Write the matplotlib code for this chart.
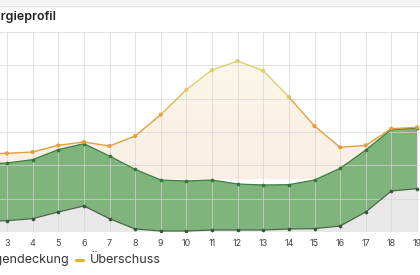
import numpy as np
import matplotlib
matplotlib.use("Agg")
import matplotlib.pyplot as plt
from matplotlib.collections import LineCollection
from matplotlib.colors import LinearSegmentedColormap, Normalize
from matplotlib.lines import Line2D
from matplotlib.patches import Rectangle

plt.rcParams['font.family'] = ['Inter', 'DejaVu Sans']

# ---- data ----
hours = [2, 3, 4, 5, 6, 7, 8, 9, 10, 11, 12, 13, 14, 15, 16, 17, 18, 19]
base = [0.16, 0.17, 0.20, 0.30, 0.39, 0.20, 0.045, 0.015, 0.015, 0.03, 0.03, 0.03, 0.045, 0.05, 0.09, 0.30, 0.615, 0.65]
eigendeckung = [1.02, 1.035, 1.085, 1.235, 1.325, 1.14, 0.94, 0.78, 0.765, 0.78, 0.72, 0.705, 0.71, 0.78, 0.955, 1.23, 1.54, 1.555]
ueberschuss = [1.17, 1.18, 1.20, 1.30, 1.35, 1.29, 1.44, 1.76, 2.135, 2.43, 2.565, 2.42, 2.025, 1.59, 1.27, 1.30, 1.55, 1.57]
tick_hours = list(range(2, 20))
title = "Energieprofil"
legend_labels = ["Eigendeckung", "Überschuss"]

W, H = 420, 275
fig = plt.figure(figsize=(W / 100, H / 100), dpi=100)

# top band
fig.add_artist(Rectangle((0, (H - 5) / H), 1, 5 / H, transform=fig.transFigure,
                         color='#f3f3f3', lw=0, zorder=0))
fig.add_artist(Line2D([0, 1], [(H - 5.5) / H] * 2, transform=fig.transFigure,
                      color='#e2e2e2', lw=1.0))

px_per_hour = 25.625
x0 = 3 - 7 / px_per_hour
x1 = 19 + 3 / px_per_hour
ax = fig.add_axes([0, (H - 232) / H, 1, 200 / H])

x = np.array(hours, dtype=float)
b = np.array(base)
m = np.array(eigendeckung)
t = np.array(ueberschuss)

# fills
ax.fill_between(x, 0, b, color='#e8e8e8', lw=0, zorder=1)
ax.fill_between(x, b, m, color='#80b47d', lw=0, zorder=1)
poly = ax.fill_between(x, m, t, color='none', lw=0, zorder=1)
grad_cmap = LinearSegmentedColormap.from_list('g', ['#faefe4', '#faf2e6', '#fbf7e8'])
grad = np.linspace(0, 1, 256).reshape(-1, 1)
im = ax.imshow(grad, extent=[x0, x1, 0.8, 2.6], origin='lower', aspect='auto',
               cmap=grad_cmap, zorder=1, interpolation='bilinear')
im.set_clip_path(poly.get_paths()[0], ax.transData)

# grid
ax.set_xticks(tick_hours)
ax.set_xticklabels([str(h) for h in tick_hours])
ax.set_yticks(np.arange(0, 3.01, 0.5))
ax.set_yticklabels([])
ax.grid(True, color='#d5d5d5', lw=0.7, alpha=0.7, zorder=2)
ax.set_axisbelow(False)
for s in ax.spines.values():
    s.set_visible(False)
ax.tick_params(axis='both', length=0)
ax.tick_params(axis='x', labelsize=6.5, labelcolor='#444444', pad=5)

# lines
ax.plot(x, b, color='#4d654d', lw=0.9, zorder=3)
ax.scatter(x, b, s=7, color='#3b573b', zorder=4, lw=0)
ax.plot(x, m, color='#3d7d3d', lw=0.9, zorder=3)
ax.scatter(x, m, s=7, color='#37763a', zorder=4, lw=0)

line_cmap = LinearSegmentedColormap.from_list('l', ['#e49f3c', '#e2a43e', '#d8cc6a', '#d6d172'])
norm = Normalize(1.6, 2.3)
pts = np.column_stack([x, t])
segs = np.stack([pts[:-1], pts[1:]], axis=1)
lc = LineCollection(segs, colors=line_cmap(norm((t[:-1] + t[1:]) / 2)), lw=1.0, zorder=3)
ax.add_collection(lc)
ax.scatter(x, t, s=9, color=line_cmap(norm(t)), zorder=4, lw=0)

ax.set_xlim(x0, x1)
ax.set_ylim(0, 3)

# title (cropped on the left)
fig.text(56 / W, (H - 17) / H, title, ha='right', va='center', fontsize=9,
         fontweight='semibold', color='#222222')

# legend (cropped on the left)
fig.text(70 / W, (H - 260) / H, legend_labels[0], ha='right', va='center', fontsize=9,
         color='#333333')
fig.add_artist(Line2D([76 / W, 83 / W], [(H - 260) / H] * 2, transform=fig.transFigure,
                      color='#e6b12c', lw=2.2, solid_capstyle='round'))
fig.text(90 / W, (H - 260) / H, legend_labels[1], ha='left', va='center', fontsize=9,
         color='#333333')

fig.savefig('out.png', dpi=100)
